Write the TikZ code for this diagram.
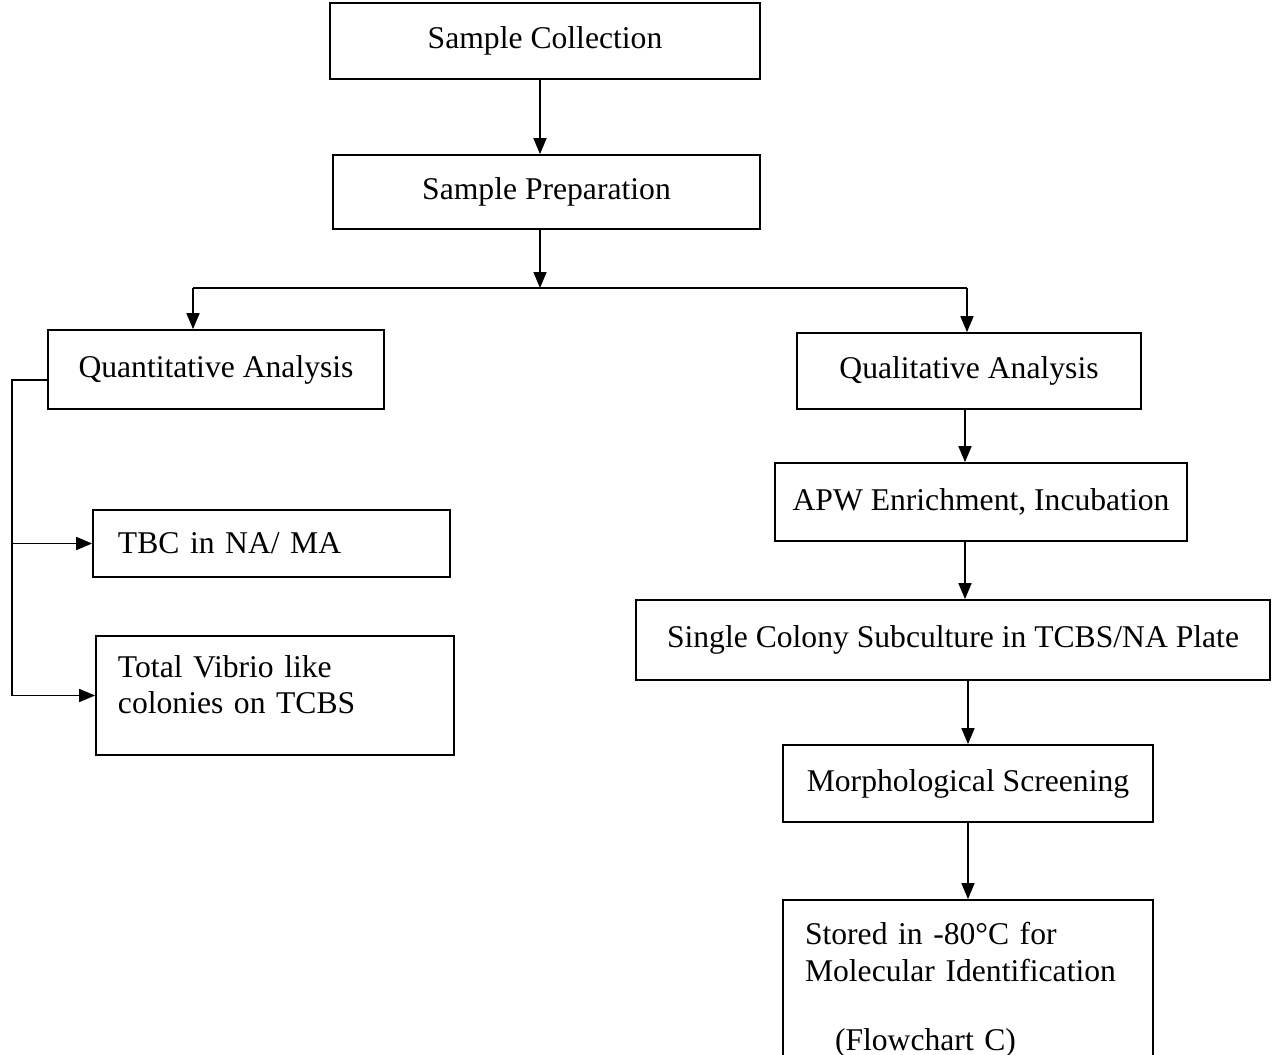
\documentclass[tikz,border=0pt]{standalone}
\usepackage{fontspec}
\setmainfont{Liberation Serif}
\usepackage{tikz}
\usetikzlibrary{arrows.meta}

\begin{document}
\begin{tikzpicture}[
    box/.style={draw, line width=1pt, rectangle, align=center,
      font=\fontsize{18}{21}\selectfont, inner sep=0pt},
    arr/.style={-{Triangle[length=3.2mm,width=2.6mm]}, line width=1pt},
    ln/.style={line width=1pt}
  ]
    \useasboundingbox (0,0) rectangle (25.56,-21.1);
    \begin{scope}
    \clip (0,0) rectangle (25.56,-21.1);

    % main column
    \node[box, minimum width=8.6cm, minimum height=1.52cm] (collect) at (10.9,-0.82) {Sample Collection};
    \node[box, minimum width=8.54cm, minimum height=1.48cm] (prep) at (10.93,-3.84) {Sample Preparation};

    % branches
    \node[box, minimum width=6.72cm, minimum height=1.58cm] (quant) at (4.32,-7.39) {Quantitative Analysis};
    \node[box, minimum width=6.88cm, minimum height=1.52cm] (qual) at (19.38,-7.42) {Qualitative Analysis};

    % quantitative side
    \node[box, minimum width=7.14cm, minimum height=1.34cm, text width=6.14cm, align=left] (tbc) at (5.43,-10.87) {TBC in NA/ MA};
    \node[box, minimum width=7.16cm, minimum height=2.38cm, text width=6.28cm, align=left] (vibrio) at (5.5,-13.91) {Total Vibrio like\\colonies on TCBS\\[-0.3cm]\mbox{}};

    % qualitative side
    \node[box, minimum width=8.24cm, minimum height=1.56cm] (apw) at (19.62,-10.04) {APW Enrichment, Incubation};
    \node[box, minimum width=12.68cm, minimum height=1.6cm] (single) at (19.06,-12.8) {Single Colony Subculture in TCBS/NA Plate};
    \node[box, minimum width=7.4cm, minimum height=1.54cm] (morph) at (19.36,-15.67) {Morphological Screening};
    \node[box, minimum width=7.4cm, minimum height=3.6cm, text width=6.52cm, align=left] (stored) at (19.36,-19.8)
      {Stored in -80\textdegree C for\\Molecular Identification\\[0.64cm]\hspace*{0.6cm}(Flowchart C)};

    \coordinate (split) at (10.8,-5.76);
    \coordinate (lft) at (3.86,-5.76);
    \coordinate (rgt) at (19.34,-5.76);
    \coordinate (rcol) at (19.3,0);
    \coordinate (brk) at (0.24,-7.6);

    \draw[arr] (split |- collect.south) -- (split |- prep.north);
    \draw[arr] (split |- prep.south) -- (split);
    \draw[ln] (lft) -- (rgt);
    \draw[arr] (lft) -- (lft |- quant.north);
    \draw[arr] (rgt) -- (rgt |- qual.north);

    \draw[ln] (quant.west |- brk) -- (brk) -- (brk |- vibrio.west);
    \draw[arr] (brk |- tbc.west) -- (tbc.west);
    \draw[arr] (brk |- vibrio.west) -- (vibrio.west);

    \draw[arr] (rcol |- qual.south) -- (rcol |- apw.north);
    \draw[arr] (rcol |- apw.south) -- (rcol |- single.north);
    \draw[arr] (single.south -| morph.north) -- (morph.north);
    \draw[arr] (morph.south) -- (stored.north);
    \end{scope}
  \end{tikzpicture}
\end{document}
